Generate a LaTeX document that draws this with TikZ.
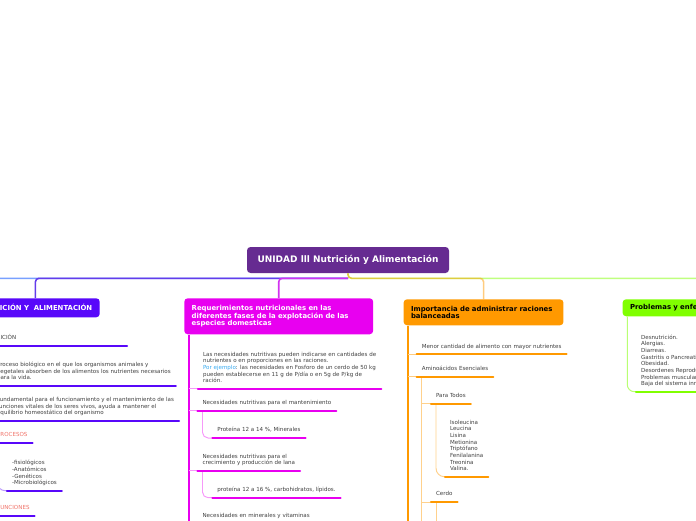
\documentclass[tikz,border=0pt]{standalone}
\usepackage{fontspec}
\setmainfont{DejaVu Sans}

\newlength{\pxl}
\setlength{\pxl}{0.025cm}

\definecolor{moradoraiz}{RGB}{102,43,145}
\definecolor{violetanutri}{RGB}{88,8,250}
\definecolor{fucsiareq}{RGB}{232,0,240}
\definecolor{naranjaimp}{RGB}{255,153,0}
\definecolor{verdeprob}{RGB}{128,255,0}
\definecolor{azulclaro}{RGB}{120,160,255}
\definecolor{violetarama}{RGB}{100,60,235}
\definecolor{fucsiarama}{RGB}{210,50,240}
\definecolor{gristexto}{RGB}{64,64,64}
\definecolor{salmon}{RGB}{240,115,105}
\definecolor{celeste}{RGB}{55,170,240}

\begin{document}
\begin{tikzpicture}[
  x=0.025cm, y=-0.025cm,
  font=\fontsize{3.95pt}{4.7pt}\selectfont,
  rama/.style={line width=1.1pt, rounded corners=2.5pt},
  tema/.style={anchor=north west, rounded corners=2.5pt, inner xsep=5.3pt, inner ysep=0pt,
    align=left, font=\fontsize{4.9pt}{5.4pt}\selectfont\bfseries},
  subtema/.style={anchor=south west, align=left, inner xsep=3.4pt, inner ysep=2.7pt,
    text=gristexto, execute at end node=\strut},
  subrayado/.style={line width=1.5pt, line cap=round},
  tronco/.style={line width=1.2pt},
  enlace/.style={line width=0.7pt, rounded corners=4pt}
]
\useasboundingbox (0,0) rectangle (696,520);
\clip (0,0) rectangle (696,520);

%--------------------------------------------------------------
% Tema central y temas principales
%--------------------------------------------------------------
\node[fill=moradoraiz, text=white, rounded corners=2.5pt, minimum width=202\pxl,
  minimum height=26\pxl, inner sep=0pt, font=\fontsize{6.4pt}{7pt}\selectfont\bfseries]
  (raiz) at (348,260) {UNIDAD lll Nutrición y Alimentación};

\node[tema, anchor=north east, fill=violetanutri, text=white, minimum height=19\pxl]
  (nutri) at (100,298) {NUTRICIÓN Y\ \ ALIMENTACIÓN};
\node[tema, fill=fucsiareq, text=white, text width=174\pxl, minimum height=36\pxl]
  (req) at (184,298) {Requerimientos nutricionales en las\\ diferentes fases de la explotación de las\\ especies domesticas};
\node[tema, fill=naranjaimp, text=black, text width=145\pxl, minimum height=26\pxl]
  (imp) at (403.3,299) {Importancia de administrar raciones\\ balanceadas};
\node[tema, fill=verdeprob, text=black, text width=160\pxl, minimum height=17\pxl]
  (prob) at (622.3,299) {Problemas y enfermedades};

\coordinate (otra) at (-45,298);

%--------------------------------------------------------------
% Ramas desde el tema central
%--------------------------------------------------------------
\draw[rama, azulclaro] (raiz.south) ++(0,5) -| (otra);
\draw[rama, violetarama] (raiz.south) ++(0,5) -| (nutri.north);
\draw[rama, fucsiarama] (raiz.south) ++(0,5) -| (req.north);
\draw[rama, verdeprob, opacity=0.5] (raiz.south) -- ++(0,5) -| (prob.north);
\draw[rama, naranjaimp, opacity=0.5] (raiz.south) -- ++(0,5) -| (imp.north);

%--------------------------------------------------------------
% Nutrición y alimentación
%--------------------------------------------------------------
\node[subtema, text width=137\pxl] (nutdef) at (-20,346) {NUTRICIÓN};
\node[subtema] (proceso) at (-8,386) {Proceso biológico en el que los organismos animales y\\ vegetales absorben de los alimentos los nutrientes necesarios\\ para la vida.};
\node[subtema] (fundam) at (-8,421) {Fundamental para el funcionamiento y el mantenimiento de las\\ funciones vitales de los seres vivos, ayuda a mantener el\\ equilibrio homeostático del organismo};
\node[subtema, text=salmon] (procesos) at (-8,443) {PROCESOS};
\node[subtema] (tipos) at (7,490.7) {-fisiológicos\\ -Anatómicos\\ -Genéticos\\ -Microbiológicos};
\node[subtema, text=salmon] (funciones) at (-8,516) {FUNCIONES};

\draw[enlace, violetanutri!40, rounded corners=6pt] ([xshift=5\pxl]procesos.south west) |- (tipos.south west);
\draw[subrayado, violetanutri] (nutdef.south west) -- (nutdef.south east);
\draw[subrayado, violetanutri] (proceso.south west) -- (proceso.south east);
\draw[subrayado, violetanutri] (fundam.south west) -- (fundam.south east);
\draw[subrayado, violetanutri] (procesos.south west) -- (procesos.south east);
\draw[subrayado, violetanutri] (tipos.south west) -- (tipos.south east);
\draw[subrayado, violetanutri] (funciones.south west) -- (funciones.south east);

%--------------------------------------------------------------
% Requerimientos nutricionales
%--------------------------------------------------------------
\node[subtema] (necind) at (198,388.7) {Las necesidades nutritivas pueden indicarse en cantidades de\\ nutrientes o en proporciones en las raciones.\\ \textcolor{celeste}{Por ejemplo}: las necesidades en Fosforo de un cerdo de 50 kg\\ pueden establecerse en 11 g de P/día o en 5g de P/kg de\\ ración.};
\node[subtema] (necmant) at (197.5,410.7) {Necesidades nutritivas para el mantenimiento};
\node[subtema] (protmant) at (212.3,438) {Proteína 12 a 14 \%, Minerales};
\node[subtema] (neccrec) at (197.5,470.7) {Necesidades nutritivas para el\\ crecimiento y producción de lana};
\node[subtema] (protcrec) at (212.3,497.7) {proteína 12 a 16 \%, carbohidratos, lípidos.};
\node[subtema] (necmin) at (197.5,523.5) {Necesidades en minerales y vitaminas};

\coordinate (reqT) at ([xshift=5\pxl]req.south west);
\draw[tronco, fucsiareq] (reqT) -- ++(0,200);
\draw[enlace, fucsiareq!40] (reqT |- necind.south west) -- (necind.south west);
\draw[enlace, fucsiareq!40] (reqT |- necmant.south west) -- (necmant.south west);
\draw[enlace, fucsiareq!40] (reqT |- neccrec.south west) -- (neccrec.south west);
\draw[enlace, fucsiareq!40] (reqT |- necmin.south west) -- (necmin.south west);
\draw[enlace, fucsiareq!40] ([xshift=5\pxl]necmant.south west) |- (protmant.south west);
\draw[enlace, fucsiareq!40] ([xshift=5\pxl]neccrec.south west) |- (protcrec.south west);
\draw[subrayado, fucsiareq] (necind.south west) -- (necind.south east);
\draw[subrayado, fucsiareq] (necmant.south west) -- (necmant.south east);
\draw[subrayado, fucsiareq] (protmant.south west) -- (protmant.south east);
\draw[subrayado, fucsiareq] (neccrec.south west) -- (neccrec.south east);
\draw[subrayado, fucsiareq] (protcrec.south west) -- (protcrec.south east);
\draw[subrayado, fucsiareq] (necmin.south west) -- (necmin.south east);

%--------------------------------------------------------------
% Importancia de raciones balanceadas
%--------------------------------------------------------------
\node[subtema] (menor) at (416.7,354.3) {Menor cantidad de alimento con mayor nutrientes};
\node[subtema] (amino) at (416.7,376.7) {Aminoácidos Esenciales};
\node[subtema] (todos) at (431,403.7) {Para Todos};
\node[subtema] (listaaa) at (445,476.7) {Isoleucina\\ Leucina\\ Lisina\\ Metionina\\ Triptófano\\ Fenilalanina\\ Treonina\\ Valina.};
\node[subtema] (cerdo) at (431,502) {Cerdo};

\coordinate (impT) at ([xshift=5\pxl]imp.south west);
\coordinate (aminoT) at ([xshift=5\pxl]amino.south west);
\draw[tronco, naranjaimp] (impT) -- ++(0,210);
\draw[enlace, naranjaimp!50] (impT |- menor.south west) -- (menor.south west);
\draw[enlace, naranjaimp!50] (impT |- amino.south west) -- (amino.south west);
\draw[enlace, naranjaimp!45] (aminoT) -- ++(0,150);
\draw[enlace, naranjaimp!45] (aminoT |- todos.south west) -- (todos.south west);
\draw[enlace, naranjaimp!45] (aminoT |- cerdo.south west) -- (cerdo.south west);
\draw[enlace, naranjaimp!45, rounded corners=6pt] ([xshift=5\pxl]todos.south west) |- (listaaa.south west);
\draw[enlace, naranjaimp!45] ([xshift=5\pxl]cerdo.south west) -- ++(0,30);
\draw[subrayado, naranjaimp] (menor.south west) -- (menor.south east);
\draw[subrayado, naranjaimp] (amino.south west) -- (amino.south east);
\draw[subrayado, naranjaimp] (todos.south west) -- (todos.south east);
\draw[subrayado, naranjaimp] (listaaa.south west) -- (listaaa.south east);
\draw[subrayado, naranjaimp] (cerdo.south west) -- (cerdo.south east);

%--------------------------------------------------------------
% Problemas y enfermedades
%--------------------------------------------------------------
\node[subtema] (males) at (636,391.7) {Desnutrición.\\ Alergias.\\ Diarreas.\\ Gastritis o Pancreatitis\\ Obesidad.\\ Desordenes Reproductivos\\ Problemas musculares\\ Baja del sistema inmune};

\draw[enlace, verdeprob!55, rounded corners=5pt] ([xshift=5\pxl]prob.south west) |- (males.south west);
\draw[subrayado, verdeprob] (males.south west) -- (males.south east);

\end{tikzpicture}
\end{document}
